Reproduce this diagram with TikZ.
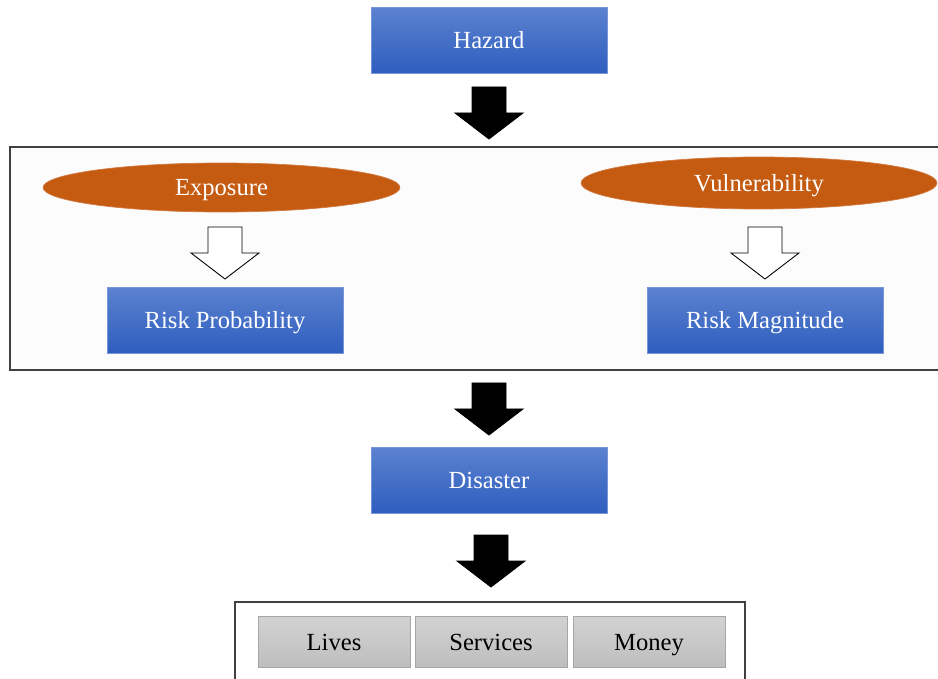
\documentclass[tikz,border=0pt]{standalone}
\usepackage{fontspec}
\setmainfont{Liberation Serif}
\usetikzlibrary{shapes.geometric}

\definecolor{boxtop}{RGB}{92,130,208}
\definecolor{boxbot}{RGB}{46,94,190}
\definecolor{boxline}{RGB}{120,150,215}
\definecolor{ovalfill}{RGB}{197,90,17}
\definecolor{greytop}{RGB}{210,210,210}
\definecolor{greybot}{RGB}{190,190,190}
\definecolor{frameback}{RGB}{252,252,252}

\tikzset{
  label text/.style={font=\fontsize{14}{16}\selectfont, text height=10pt, text depth=0.7pt},
  stagebox/.style={rectangle, top color=boxtop, bottom color=boxbot, draw=boxline,
    text=white, minimum width=4.72cm, minimum height=1.32cm, inner sep=0pt, label text},
  factoroval/.style={ellipse, fill=ovalfill, draw=ovalfill!80!white, text=white,
    inner sep=0pt, label text},
  lossbox/.style={rectangle, top color=greytop, bottom color=greybot, draw=black!35,
    minimum width=3.04cm, minimum height=1.02cm, inner sep=0pt, label text},
  frame/.style={draw=black!75, fill=frameback, line width=0.6pt}
}

\begin{document}
\begin{tikzpicture}[x=0.02cm, y=-0.02cm]
      \newcommand{\blockArrow}[3]{ \filldraw[fill=#3, draw=black, line width=0.5pt]
        (#1-17,#2) -- (#1+17,#2) -- (#1+17,#2+26) -- (#1+34,#2+26) --
        (#1,#2+52) -- (#1-34,#2+26) -- (#1-17,#2+26) -- cycle; };
      \useasboundingbox (0,0) rectangle (938,679);
      % frames
      \draw[frame] (10,147) rectangle (950,370);
      \draw[frame, fill=white] (235,602) rectangle (745,690);
      % main chain
      \node[stagebox] (hazard) at (489,40) {Hazard};
      \node[stagebox] (disaster) at (489,480) {Disaster};
      \blockArrow{489}{87}{black} \blockArrow{489}{383}{black}
      \blockArrow{491}{535}{black}
      % risk factors
      \node[factoroval, minimum width=7.14cm, minimum height=0.98cm] (exposure)
        at (221.5,187.5) {Exposure};
      \node[factoroval, minimum width=7.12cm, minimum height=1.04cm] (vuln)
        at (759,183) {Vulnerability};
      \blockArrow{225}{227}{white} \blockArrow{765}{227}{white}
      \node[stagebox] (prob) at (225,320) {Risk Probability};
      \node[stagebox] (magn) at (765,320) {Risk Magnitude};
      % losses
      \foreach \xx/\nm/\txt in {334/lives/Lives,491/services/Services,649/money/Money}
        \node[lossbox] (\nm) at (\xx,642) {\txt};
    \end{tikzpicture}
\end{document}
